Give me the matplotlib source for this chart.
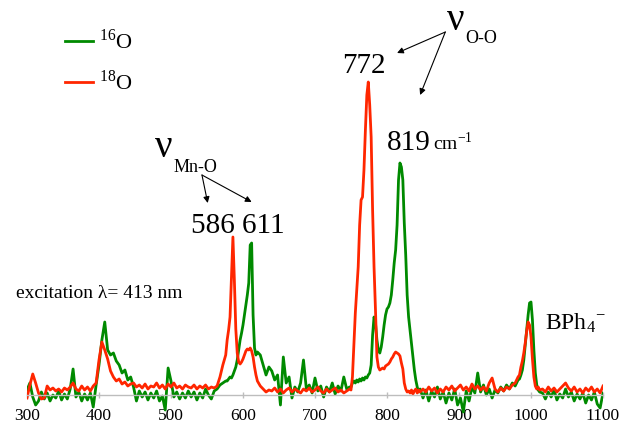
import numpy as np
import matplotlib.pyplot as plt

# Raman shift sampling (cm-1): coarse in the baseline, finer across the bands
wavenumber = np.concatenate([
    np.arange(300, 577, 4),
    np.arange(578, 621, 2),
    np.arange(624, 749, 4),
    np.arange(750, 847, 2),
    np.arange(850, 983, 4),
    np.arange(984, 1013, 2),
    np.arange(1016, 1101, 4),
])

# 16O sample, intensity in arbitrary units
o16 = [
    # 300-576
    5, 12, -2, -10, -6, 3, -4, 2, -6, 0,
    -3, 4, -5, 1, -4, 6, 26, -2, 3, -6,
    1, -5, 2, -12, 10, 30, 55, 73, 45, 40,
    42, 34, 30, 22, 25, 15, 18, 8, -6, 4,
    -2, 3, -5, 2, -3, 4, -6, -1, -15, 27,
    14, -2, 3, -4, 2, -3, 4, -2, 3, -5,
    2, -3, 6, 0, -4, 4, 6, 10, 12, 14,
    # 578-620
    14, 16, 18, 17, 20, 24, 28, 35, 45, 55,
    62, 70, 80, 90, 100, 112, 150, 152, 80, 47,
    40, 43,
    # 624-748
    40, 30, 20, 28, 24, 15, 20, -10, 38, 12,
    18, -3, 8, 3, 12, 35, 6, 10, 2, 17,
    4, 9, -2, 8, 3, 12, 1, 9, 4, 18,
    6, 8,
    # 750-846
    8, 12, 14, 12, 15, 13, 16, 14, 17, 15,
    18, 17, 20, 22, 30, 60, 78, 72, 55, 45,
    42, 48, 58, 70, 80, 86, 88, 92, 100, 115,
    132, 145, 170, 215, 232, 228, 215, 172, 140, 100,
    78, 65, 52, 38, 25, 15, 8, 3, 6,
    # 850-982
    -3, 5, -6, 4, -2, 8, -4, 3, -8, 2,
    -5, 6, -10, -3, -17, 4, -6, 8, 2, 22,
    3, 10, 0, 6, -3, 5, 2, 8, 4, 10,
    6, 12, 9, 15,
    # 984-1012
    16, 20, 25, 35, 50, 65, 80, 92, 93, 75,
    45, 22, 10, 5, 3,
    # 1016-1100
    2, -4, 3, -2, 5, -5, 1, -3, 6, -2,
    3, -6, 1, -4, 2, -8, 0, -5, 3, -9, -13, 2,
]

# 18O sample
o18 = [
    # 300-576
    -3, 10, 21, 12, 2, -4, -3, 9, 5, 7,
    4, 6, 3, 7, 5, 8, 12, 6, 4, 9,
    5, 8, 4, 9, 12, 35, 53, 45, 36, 24,
    18, 14, 16, 11, 13, 9, 11, 12, 8, 10,
    7, 11, 6, 9, 8, 12, 7, 10, 6, 11,
    8, 12, 7, 9, 6, 10, 8, 7, 10, 6,
    9, 7, 10, 6, 8, 7, 9, 18, 30, 40,
    # 578-620
    55, 65, 78, 118, 158, 115, 66, 42, 33, 31,
    33, 36, 40, 44, 46, 45, 47, 44, 38, 28,
    20, 14,
    # 624-748
    9, 6, 3, 5, 4, 7, 3, 6, 2, 5,
    7, 3, 6, 4, 2, 6, 4, 7, 3, 5,
    8, 4, 2, 6, 3, 5, 7, 3, 5, 2,
    4, 6,
    # 750-846
    5, 18, 50, 82, 105, 128, 170, 195, 198, 225,
    265, 300, 313, 290, 258, 185, 128, 85, 38, 28,
    25, 26, 27, 26, 29, 30, 31, 33, 36, 38,
    41, 43, 42, 41, 39, 32, 26, 12, 6, 3,
    4, 2, 5, 1, 4, 6, 2, 5, 3,
    # 850-982
    6, 3, 8, 4, 7, 2, 6, 3, 8, 5,
    9, 4, 7, 10, 5, 8, 4, 11, 6, 9,
    5, 8, 4, 12, 17, 6, 3, 7, 4, 8,
    6, 10, 12, 18,
    # 984-1012
    20, 28, 34, 42, 52, 64, 73, 70, 58, 36,
    18, 9, 6, 8, 5,
    # 1016-1100
    6, 3, 8, 4, 7, 3, 6, 9, 12, 7,
    4, 8, 3, 6, 2, 7, 4, 8, 3, 6, 2, 9,
]

xtick_values = [300, 400, 500, 600, 700, 800, 900, 1000, 1100]

green = "#008a00"
red = "#ff2600"
serif = "Liberation Serif"

plt.rcParams["font.family"] = serif
plt.rcParams["mathtext.fontset"] = "stix"

fig = plt.figure(figsize=(6.21, 4.25), dpi=100)
ax = fig.add_axes([27 / 621, 10 / 425, 576 / 621, 355 / 425])

ax.plot(wavenumber, o16, color=green, lw=2.0, label=r"$^{\mathregular{16}}$O")
ax.plot(wavenumber, o18, color=red, lw=2.0, label=r"$^{\mathregular{18}}$O")

ax.set_xlim(300, 1100)
ax.set_ylim(-20, 335)
ax.set_xticks(xtick_values)
ax.set_yticks([])
for side in ["left", "right", "top"]:
    ax.spines[side].set_visible(False)
ax.spines["bottom"].set_position(("data", 0))
ax.spines["bottom"].set_color("#bdbdbd")
ax.spines["bottom"].set_linewidth(1.0)
ax.tick_params(axis="x", direction="inout", length=5, width=1.0,
               color="#bdbdbd", labelsize=12.5, pad=7)

ax.legend(loc="upper left", bbox_to_anchor=(65 / 621, 1 - 30 / 425),
          bbox_transform=fig.transFigure, frameon=False, fontsize=16,
          handlelength=1.25, handletextpad=0.3, labelspacing=0.75,
          borderpad=0, borderaxespad=0)

# band labels
arrow = dict(arrowstyle="-|>", color="black", lw=0.8, mutation_scale=9,
             shrinkA=0, shrinkB=0)

ax.text(478, 238, "ν", fontsize=28, ha="left", va="baseline", clip_on=False)
ax.text(503, 223, "Mn-O", fontsize=13, ha="left", va="baseline", clip_on=False)
ax.annotate("", xy=(551, 192), xytext=(543, 220), arrowprops=arrow,
            annotation_clip=False)
ax.annotate("", xy=(612, 193), xytext=(543, 220), arrowprops=arrow,
            annotation_clip=False)
ax.text(528, 162, "586 611", fontsize=21, ha="left", va="baseline", clip_on=False)

ax.text(883, 365, "ν", fontsize=28, ha="left", va="baseline", clip_on=False)
ax.text(908, 352, "O-O", fontsize=13, ha="left", va="baseline", clip_on=False)
ax.annotate("", xy=(814, 342), xytext=(881, 363), arrowprops=arrow,
            annotation_clip=False)
ax.annotate("", xy=(846, 300), xytext=(881, 363), arrowprops=arrow,
            annotation_clip=False)
ax.text(737, 322, "772", fontsize=21, ha="left", va="baseline", clip_on=False)
ax.text(800, 245, "819", fontsize=21, ha="left", va="baseline", clip_on=False)
ax.text(864, 245, r"cm$^{\mathregular{-1}}$", fontsize=14, ha="left",
        va="baseline", clip_on=False)

ax.text(285, 97, "excitation λ= 413 nm", fontsize=14, ha="left",
        va="baseline", clip_on=False)
ax.text(1019, 65, r"BPh$_{\mathregular{4}}{}^{\mathregular{-}}$", fontsize=17,
        ha="left", va="baseline", clip_on=False)

fig.savefig("out.png", dpi=100)
